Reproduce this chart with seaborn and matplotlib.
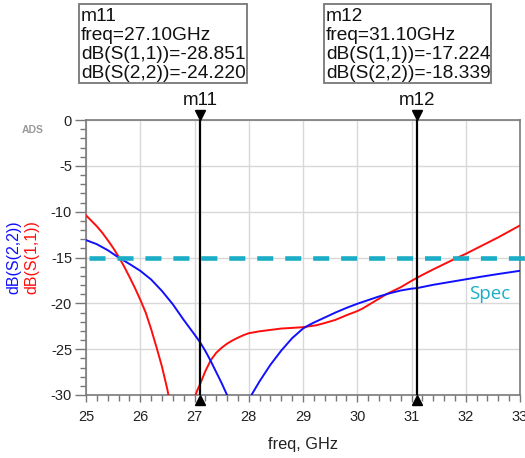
import numpy as np
import pandas as pd
import matplotlib
matplotlib.use('Agg')
import matplotlib.pyplot as plt
import matplotlib.transforms as mtransforms
from matplotlib.patches import Rectangle
from matplotlib.ticker import MultipleLocator
import seaborn as sns

# --- data (GHz, dB) ---
freq_s11 = [25.0, 25.1, 25.2, 25.3, 25.4, 25.5, 25.6, 25.7, 25.8, 25.9, 26.0, 26.1, 26.2,
            26.3, 26.4, 26.5, 26.6, 26.8, 27.0, 27.05, 27.1, 27.2, 27.3, 27.4, 27.5, 27.6,
            27.7, 27.8, 27.9, 28.0, 28.2, 28.4, 28.6, 28.8, 29.0, 29.24, 29.4, 29.6, 29.8,
            30.0, 30.1, 30.3, 30.55, 30.8, 31.0, 31.1, 31.2, 31.4, 31.6, 31.8, 32.0, 32.2,
            32.4, 32.6, 32.8, 33.0]
s11_db = [-10.4, -11.0, -11.6, -12.3, -13.1, -13.95, -14.9, -15.95, -17.1, -18.3, -19.6,
          -21.0, -22.8, -24.8, -26.9, -29.4, -32.5, -45.0, -30.3, -29.5, -28.85, -27.4,
          -26.2, -25.4, -24.85, -24.4, -24.05, -23.75, -23.48, -23.26, -23.05, -22.9, -22.75,
          -22.68, -22.6, -22.4, -22.15, -21.8, -21.3, -20.85, -20.56, -19.85, -18.96, -18.25,
          -17.55, -17.22, -16.9, -16.3, -15.72, -15.15, -14.6, -14.0, -13.4, -12.8, -12.15,
          -11.5]

freq_s22 = [25.0, 25.2, 25.4, 25.6, 25.8, 26.0, 26.2, 26.4, 26.6, 26.8, 27.0, 27.1, 27.2,
            27.3, 27.4, 27.5, 27.6, 27.7, 27.85, 28.0, 28.05, 28.2, 28.4, 28.6, 28.8, 29.0,
            29.1, 29.2, 29.4, 29.6, 29.8, 30.0, 30.2, 30.4, 30.6, 30.8, 31.0, 31.1, 31.4,
            31.7, 32.0, 32.3, 32.6, 33.0]
s22_db = [-13.1, -13.55, -14.2, -15.0, -15.7, -16.45, -17.4, -18.65, -20.1, -21.8, -23.4,
          -24.22, -25.2, -26.3, -27.5, -28.7, -30.0, -31.3, -40.0, -31.0, -30.0, -28.5,
          -26.7, -25.15, -23.8, -22.75, -22.4, -22.1, -21.55, -21.0, -20.5, -20.05, -19.65,
          -19.25, -18.9, -18.6, -18.4, -18.34, -17.98, -17.68, -17.38, -17.08, -16.8, -16.45]

spec_freq = [25.05, 33.1]
spec_db = [-15, -15]

marker_names = ['m11', 'm12']
marker_freq = [27.1, 31.1]
marker_s11 = [-28.851, -17.224]
marker_s22 = [-24.220, -18.339]

RED = '#ff0d0d'
BLUE = '#1010ff'
CYAN = '#1aadc5'

sns.set_theme(style='white')
plt.rcParams['font.family'] = ['Liberation Sans', 'DejaVu Sans']
plt.rcParams['axes.unicode_minus'] = False

fig = plt.figure(figsize=(5.25, 4.58), dpi=100)
W, H = 525, 458
ax = fig.add_axes([86 / W, 1 - 395 / H, 434 / W, 275 / H])

df = pd.concat([
    pd.DataFrame({'freq': freq_s11, 'dB': s11_db, 'trace': 'dB(S(1,1))'}),
    pd.DataFrame({'freq': freq_s22, 'dB': s22_db, 'trace': 'dB(S(2,2))'}),
])
sns.lineplot(data=df, x='freq', y='dB', hue='trace',
             palette={'dB(S(1,1))': RED, 'dB(S(2,2))': BLUE},
             legend=False, lw=1.4, ax=ax, zorder=3)

# spec line (runs a bit past the right edge like in ADS)
sns.lineplot(x=spec_freq, y=spec_db, color=CYAN, lw=3.3, ax=ax, clip_on=False, zorder=4)
ax.lines[-1].set_dashes((3.5, 2.6))
ax.text(32.45, -19.0, 'Spec', color=CYAN, fontsize=13.5, family=['Open Sans', 'DejaVu Sans'],
        ha='center', va='center')

ax.set_xlim(25, 33)
ax.set_ylim(-30, 0)
ax.xaxis.set_major_locator(MultipleLocator(1))
ax.xaxis.set_minor_locator(MultipleLocator(0.2))
ax.yaxis.set_major_locator(MultipleLocator(5))
ax.yaxis.set_minor_locator(MultipleLocator(1))
ax.grid(True, which='major', color='#d8d8d8', lw=1)
ax.set_axisbelow(True)
ax.tick_params(axis='x', which='major', direction='out', length=5, width=1, color='#777',
               labelsize=10.5, labelcolor='#222', pad=6)
ax.tick_params(axis='x', which='minor', direction='out', length=4.5, width=1, color='#777')
ax.tick_params(axis='y', which='major', direction='out', length=8, width=1, color='#777',
               labelsize=10.5, labelcolor='#222', pad=2)
ax.tick_params(axis='y', which='minor', direction='out', length=4.5, width=1, color='#777')
ax.tick_params(bottom=True, left=True, which='both')
for sp in ax.spines.values():
    sp.set_color('#7a7a7a')
    sp.set_linewidth(1.2)
ax.set_xlabel('')
ax.set_ylabel('')

# markers
ax.vlines(marker_freq, -30, 0, color='black', lw=1.6, zorder=5)
up = mtransforms.offset_copy(ax.transData, fig=fig, y=3.4, units='points')
dn = mtransforms.offset_copy(ax.transData, fig=fig, y=-3.4, units='points')
ax.plot(marker_freq, [0] * len(marker_freq), 'v', color='black', ms=7, transform=up,
        clip_on=False, zorder=6)
ax.plot(marker_freq, [-30] * len(marker_freq), '^', color='black', ms=7, transform=dn,
        clip_on=False, zorder=6)
for name, f in zip(marker_names, marker_freq):
    ax.annotate(name, (f, 0), xytext=(0, 14), textcoords='offset points', ha='center',
                va='center', fontsize=13.5, color='#111')

# marker readout boxes
box_left = [79, 324]
box_right = [247, 491]
for i, name in enumerate(marker_names):
    fig.patches.append(Rectangle((box_left[i] / W, 1 - 83 / H), (box_right[i] - box_left[i]) / W,
                                 79 / H, transform=fig.transFigure, fill=False,
                                 edgecolor='#777', lw=1.3))
    lines = [name, 'freq=%.2fGHz' % marker_freq[i],
             'dB(S(1,1))=%.3f' % marker_s11[i], 'dB(S(2,2))=%.3f' % marker_s22[i]]
    for j, s in enumerate(lines):
        fig.text((box_left[i] + 2) / W, 1 - (21 + 19 * j) / H, s, fontsize=13.8,
                 color='#111', ha='left', va='baseline')

# axis labels
fig.text(14 / W, 1 - 257 / H, 'dB(S(2,2))', rotation=90, color=BLUE, fontsize=11.5,
         ha='center', va='center')
fig.text(32 / W, 1 - 257 / H, 'dB(S(1,1))', rotation=90, color=RED, fontsize=11.5,
         ha='center', va='center')
fig.text(303 / W, 1 - 445 / H, 'freq, GHz', fontsize=11.8, color='#222', ha='center',
         va='center')
fig.text(33 / W, 1 - 130 / H, 'ADS', fontsize=7.5, color='#999', ha='center', va='center',
         fontweight='bold')

fig.savefig('out.png', dpi=100)
